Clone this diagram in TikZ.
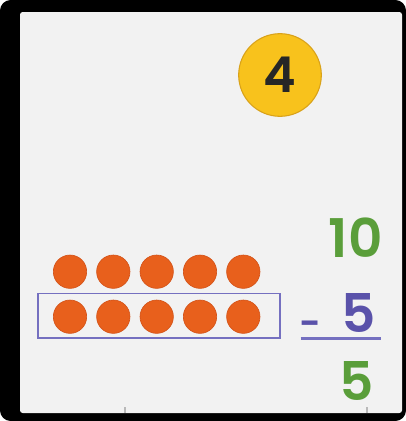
\documentclass[tikz,border=0pt]{standalone}
\usepackage{fontspec}
\setmainfont{Poppins}
\newfontfamily\numfont{Poppins SemiBold}
\definecolor{bg}{HTML}{F2F2F2}
\definecolor{coin}{HTML}{F8C21C}
\definecolor{coinedge}{HTML}{D9A21A}
\definecolor{dot}{HTML}{E8601C}
\definecolor{dotedge}{HTML}{D4541A}
\definecolor{grn}{HTML}{5A9E3A}
\definecolor{blu}{HTML}{5A52AA}
\definecolor{boxc}{HTML}{7570C0}
\begin{document}
\begin{tikzpicture}[x=0.75pt,y=-0.75pt,
  counter/.style={circle,fill=dot,draw=dotedge,line width=0.5pt,minimum size=25pt,inner sep=0pt},
  numtxt/.style={inner sep=0pt,anchor=base east,font=\fontsize{40}{40}\numfont}]
\useasboundingbox (0,0) rectangle (406,421);
\fill[black,rounded corners=8pt] (0,0) rectangle (406,421);
\fill[bg,rounded corners=2pt] (20,12) rectangle (402,413);
% bottom edge marks
\draw[gray!55,line width=1.5pt] (125,407) -- (125,413);
\draw[gray!55,line width=1.5pt] (367,407) -- (367,413);
% badge
\node[circle,fill=coin,draw=coinedge,line width=0.8pt,minimum size=62pt,inner sep=0pt,
  font=\fontsize{37}{37}\numfont,text=black!85] (badge) at (280,75) {4};
% counters
\foreach \i/\x in {1/70,2/113.3,3/156.7,4/200,5/243.3}{
  \node[counter] (t\i) at (\x,271.7) {};
  \node[counter] (b\i) at (\x,316.7) {};
}
\node[draw=boxc,line width=1.3pt,minimum width=182pt,minimum height=33.5pt,inner sep=0pt] (box) at (159,315.8) {};
% numbers
\node[numtxt,text=grn] (ten) at (383,257) {10};
\node[numtxt,text=blu,font=\fontsize{28}{28}\numfont] (minus) at (322,336) {-};
\node[numtxt,text=blu] (five) at (376,332) {5};
\draw[boxc,line width=2.2pt] (300.7,338.5) -- (380.7,338.5);
\node[numtxt,text=grn] (res) at (374,400) {5};
\end{tikzpicture}
\end{document}
